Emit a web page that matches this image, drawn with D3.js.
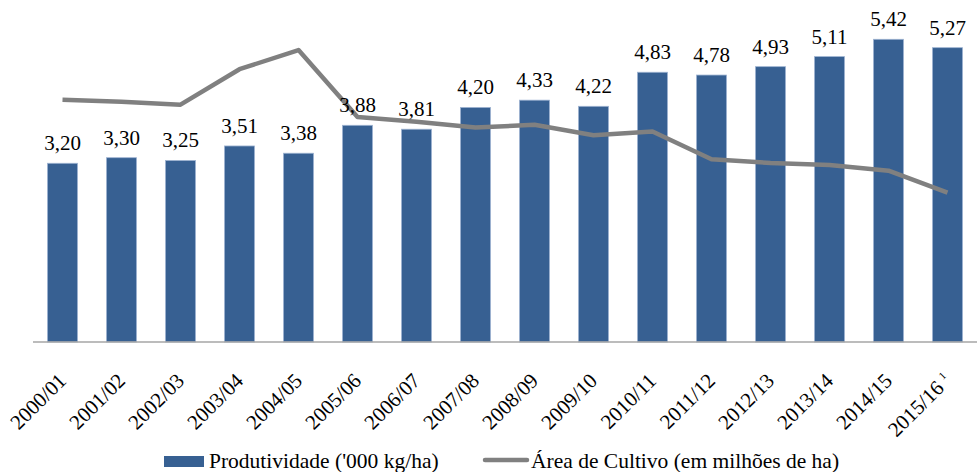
<!DOCTYPE html>
<html>
<head>
<meta charset="utf-8">
<script src="https://cdn.jsdelivr.net/npm/d3@7"></script>
<style>
  body { margin: 0; background: #fff; }
</style>
</head>
<body>
<svg id="chart" width="977" height="472"></svg>
<script>
const seasons = ["2000/01", "2001/02", "2002/03", "2003/04", "2004/05", "2005/06", "2006/07", "2007/08",
  "2008/09", "2009/10", "2010/11", "2011/12", "2012/13", "2013/14", "2014/15", "2015/16"];
const productivity = [3.20, 3.30, 3.25, 3.51, 3.38, 3.88, 3.81, 4.20, 4.33, 4.22, 4.83, 4.78, 4.93, 5.11, 5.42, 5.27];
// estimated from the line, no axis shown in the source
const area = [2.53, 2.51, 2.48, 2.85, 3.05, 2.35, 2.30, 2.24, 2.27, 2.16, 2.20, 1.91, 1.87, 1.85, 1.79, 1.56];
const legendLabels = ["Produtividade ('000 kg/ha)", "Área de Cultivo (em milhões de ha)"];

const FONT = '"Liberation Serif"';
const svg = d3.select("#chart");
const baseY = 342;

const x = d3.scaleBand().domain(seasons).range([33, 977]).paddingInner(0.49).paddingOuter(0.245);
const y = d3.scaleLinear().domain([0, 6]).range([baseY, baseY - 6 * 55.85]);
const yArea = d3.scaleLinear().domain([0, 3.5]).range([baseY, 7]);

// bars
svg.append("g")
  .selectAll("rect")
  .data(productivity)
  .join("rect")
  .attr("x", (d, i) => x(seasons[i]))
  .attr("y", (d) => y(d))
  .attr("width", x.bandwidth())
  .attr("height", (d) => baseY - y(d))
  .attr("fill", "#376092")
  .attr("stroke", "#9fb4d2")
  .attr("stroke-width", 0.8);

// axis line
svg.append("line")
  .attr("x1", 33).attr("x2", 977)
  .attr("y1", baseY).attr("y2", baseY)
  .attr("stroke", "#a6a6a6").attr("stroke-width", 1.5);

// area line
const line = d3.line()
  .x((d, i) => x(seasons[i]) + x.bandwidth() / 2)
  .y((d) => yArea(d));

svg.append("path")
  .datum(area)
  .attr("d", line)
  .attr("fill", "none")
  .attr("stroke", "#808080")
  .attr("stroke-width", 4.5)
  .attr("stroke-linejoin", "round");

// value labels
svg.append("g")
  .selectAll("text")
  .data(productivity)
  .join("text")
  .attr("x", (d, i) => x(seasons[i]) + x.bandwidth() / 2)
  .attr("y", (d) => y(d) - 13)
  .attr("text-anchor", "middle")
  .style("font-family", FONT)
  .style("font-size", "21px")
  .text((d) => d.toFixed(2).replace(".", ","));

// tick labels
const ticks = svg.append("g")
  .selectAll("text")
  .data(seasons)
  .join("text")
  .attr("transform", (d) => `translate(${x(d) + x.bandwidth() / 2 + 5},${baseY + 40}) rotate(-45)`)
  .attr("text-anchor", "end")
  .style("font-family", FONT)
  .style("font-size", "21px")
  .text((d) => d);
ticks.filter((d, i) => i === seasons.length - 1)
  .append("tspan")
  .attr("dx", 5)
  .attr("dy", -8)
  .style("font-size", "11px")
  .text("1");

// legend
const lg = svg.append("g");
lg.append("rect").attr("x", 164).attr("y", 456).attr("width", 40).attr("height", 11).attr("fill", "#376092");
lg.append("text").attr("x", 209).attr("y", 468)
  .style("font-family", FONT).style("font-size", "21.5px").text(legendLabels[0]);
lg.append("line").attr("x1", 485).attr("x2", 527).attr("y1", 460).attr("y2", 460)
  .attr("stroke", "#808080").attr("stroke-width", 4.5).attr("stroke-linecap", "round");
lg.append("text").attr("x", 531).attr("y", 468)
  .style("font-family", FONT).style("font-size", "21.5px").text(legendLabels[1]);
</script>
</body>
</html>
